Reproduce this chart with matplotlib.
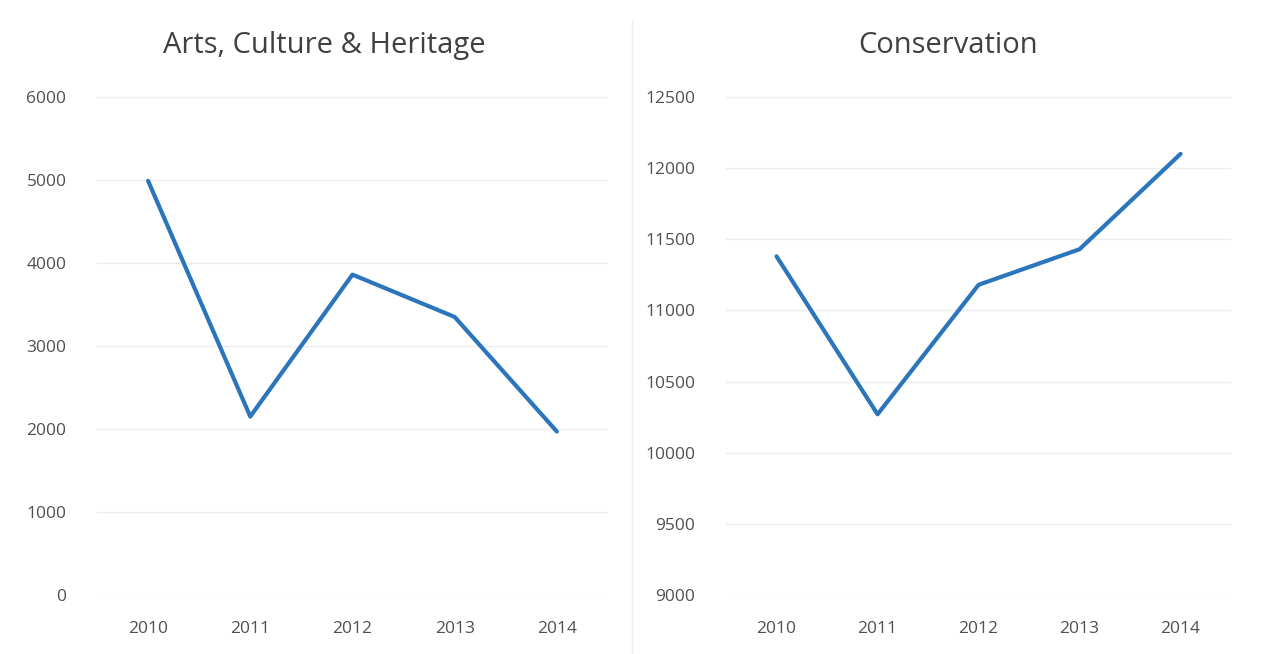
import matplotlib.pyplot as plt
import numpy as np

years = ["2010", "2011", "2012", "2013", "2014"]
arts_values = [4990, 2150, 3860, 3350, 1970]
conservation_values = [11380, 10270, 11180, 11430, 12100]

titles = ["Arts, Culture & Heritage", "Conservation"]
series = [arts_values, conservation_values]
ylims = [(0, 6000), (9000, 12500)]
ysteps = [1000, 500]

plt.rcParams['font.family'] = ['Open Sans', 'DejaVu Sans']

fig = plt.figure(figsize=(12.66, 6.54), dpi=100)
line_color = "#2a75bb"
axes_pos = [[0.0766, 0.0902, 0.4036, 0.7615],
            [0.5735, 0.0902, 0.3989, 0.7615]]
title_x = [0.256, 0.749]

x = np.arange(len(years))
for pos, tx, title, vals, ylim, step in zip(axes_pos, title_x, titles, series, ylims, ysteps):
    ax = fig.add_axes(pos)
    ax.plot(x, vals, color=line_color, lw=3.0, solid_capstyle="round", solid_joinstyle="round")
    ax.set_xlim(-0.5, len(years) - 0.5)
    ax.set_ylim(*ylim)
    ax.set_yticks(np.arange(ylim[0], ylim[1] + 1, step))
    ax.set_xticks(x)
    ax.set_xticklabels(years)
    ax.grid(axis="y", color="#ececec", lw=0.9)
    ax.set_axisbelow(True)
    for s in ax.spines.values():
        s.set_visible(False)
    ax.tick_params(length=0, labelsize=12.5, labelcolor="#505050")
    ax.tick_params(axis="y", pad=22)
    ax.tick_params(axis="x", pad=19)
    fig.text(tx, 0.93, title, fontsize=21, color="#404040", ha="center", va="center")

# faint divider between the two panels
fig.add_artist(plt.Line2D([0.4992, 0.4992], [0.0, 0.97], color="#eeeeee", lw=1))

fig.savefig("out.png", dpi=100, facecolor="white")
